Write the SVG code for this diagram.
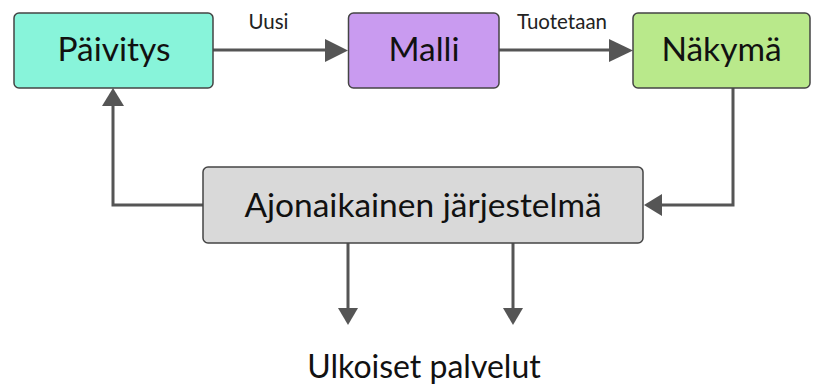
<svg xmlns="http://www.w3.org/2000/svg" width="824" height="385" viewBox="0 0 824 385">
<defs>
<style>
.node{stroke:#444;stroke-width:1.5}
.lbl{font-family:Lato,"Noto Sans",sans-serif;font-size:33.5px;fill:#111;text-anchor:middle}
.elbl{font-family:Lato,"Noto Sans",sans-serif;font-size:20.5px;fill:#222;text-anchor:middle}
.edge{fill:none;stroke:#555;stroke-width:3}
</style>
</defs>
<rect width="824" height="385" fill="#fff"/>
<g id="connectors">
<path class="edge" d="M213,50 H326"/>
<path d="M325,39 L348,50.5 L325,62 z" fill="#555"/>
<path class="edge" d="M499,50 H611"/>
<path d="M609,39 L633,50.5 L609,62 z" fill="#555"/>
<path class="edge" d="M203,205 H113 V104"/>
<path d="M102,106 L113,88 L124,106 z" fill="#555"/>
<path class="edge" d="M733,88 V205 H660"/>
<path d="M662,194 L644,205 L662,216 z" fill="#555"/>
<path class="edge" d="M348,243 V310"/>
<path d="M338,308 L348,325 L358,308 z" fill="#555"/>
<path class="edge" d="M513,243 V310"/>
<path d="M503,308 L513,325 L523,308 z" fill="#555"/>
<text class="elbl" x="268.5" y="28.5">Uusi</text>
<text class="elbl" x="562" y="28.5">Tuotetaan</text>
</g>
<g id="paivitys">
<rect class="node" x="14" y="13" width="199" height="75" rx="5" fill="#88F4DA"/>
<text class="lbl" x="114" y="60.5">Päivitys</text>
</g>
<g id="malli">
<rect class="node" x="348.5" y="13" width="150.5" height="75" rx="5" fill="#C99BF0"/>
<text class="lbl" x="424" y="60.5">Malli</text>
</g>
<g id="nakyma">
<rect class="node" x="633" y="13" width="177" height="75" rx="5" fill="#B9E98B"/>
<text class="lbl" x="721.5" y="60.5">Näkymä</text>
</g>
<g id="ajonaikainen">
<rect class="node" x="203" y="167" width="440" height="76" rx="5" fill="#D9D9D9"/>
<text class="lbl" x="423" y="217">Ajonaikainen järjestelmä</text>
</g>
<g id="ulkoiset">
<text class="lbl" x="424" y="378" style="font-size:32px">Ulkoiset palvelut</text>
</g>
</svg>
